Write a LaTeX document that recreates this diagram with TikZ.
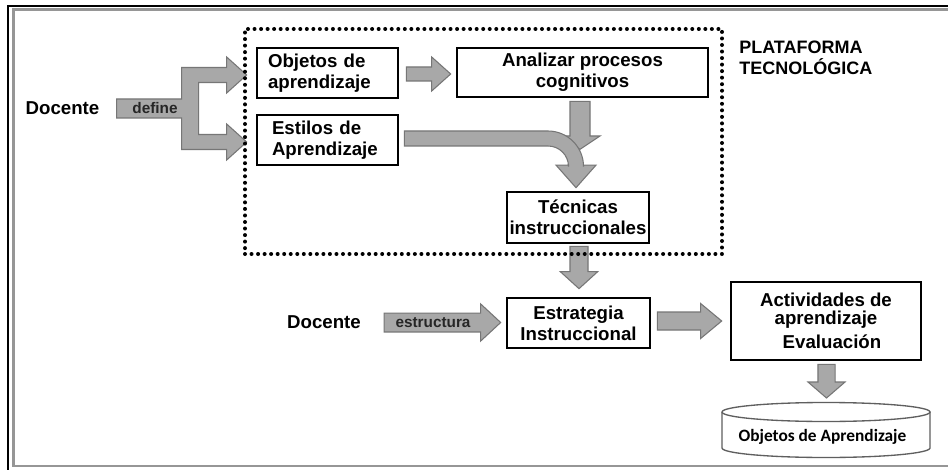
\documentclass[tikz,border=0pt]{standalone}
\usepackage{fontspec}
\setmainfont{Liberation Sans}
\newfontfamily\calibrifont{Carlito}
\usetikzlibrary{calc}

\definecolor{arrowfill}{RGB}{168,168,168}
\definecolor{arrowline}{RGB}{118,118,118}
\definecolor{framegray}{RGB}{150,150,150}
\definecolor{cylline}{RGB}{95,95,95}

% block arrow pointing right: start, tip, shaft half width, head half width, head length
\newcommand\rightblock[5]{%
  \path[blockarrow] let \p1=(#1), \p2=(#2) in
    (\x1,{\y1+#3}) -- ({\x2-#5},{\y1+#3}) -- ({\x2-#5},{\y1+#4}) -- (\x2,\y1)
    -- ({\x2-#5},{\y1-#4}) -- ({\x2-#5},{\y1-#3}) -- (\x1,{\y1-#3}) -- cycle;}
% block arrow pointing down: start, tip, shaft half width, head half width, head length
\newcommand\downblock[5]{%
  \path[blockarrow] let \p1=(#1), \p2=(#2) in
    ({\x1+#3},\y1) -- ({\x1+#3},{\y2+#5}) -- ({\x1+#4},{\y2+#5}) -- (\x1,\y2)
    -- ({\x1-#4},{\y2+#5}) -- ({\x1-#3},{\y2+#5}) -- ({\x1-#3},\y1) -- cycle;}

\begin{document}
\begin{tikzpicture}[x=0.75pt, y=-0.75pt,
  box/.style={draw=black, line width=2pt, fill=white, inner sep=0pt,
    font=\fontsize{14}{15.75}\selectfont\bfseries, align=center},
  lbl/.style={font=\fontsize{14}{15.75}\selectfont\bfseries, inner sep=0pt},
  inarrow/.style={font=\fontsize{11.5}{13}\selectfont\bfseries, text=black!85, inner sep=0pt},
  blockarrow/.style={fill=arrowfill, draw=arrowline, line width=0.8pt, line join=miter},
  platform/.style={draw=black, line width=3pt, dash pattern=on 0pt off 4.9pt,
    line cap=round, inner sep=0pt},
  cylstyle/.style={draw=cylline, line width=1pt}]

\fill[white] (0,0) rectangle (948,470);
\useasboundingbox (0,0) rectangle (948,470);

% page frame
\draw[black, line width=1.6pt] (8.3,470) -- (8.3,6) -- (948,6);
\draw[framegray, line width=1.8pt] (948,9.5) -- (13.3,9.5) -- (13.3,466) -- (948,466);

% boxes
\node[box, minimum width=105.75pt, minimum height=37.5pt, text width=89.25pt, align=left]
  (obj) at (327.5,73) {Objetos de\\aprendizaje};
\node[box, minimum width=105.75pt, minimum height=37.5pt, text width=83.25pt, align=left]
  (est) at (327.5,140) {Estilos de\\Aprendizaje};
\node[box, minimum width=188.25pt, minimum height=36.75pt]
  (ana) at (582.5,72.5) {Analizar procesos\\cognitivos};
\node[box, minimum width=106.5pt, minimum height=38.25pt]
  (tec) at (578,217.5) {Técnicas\\instruccionales};
\node[box, minimum width=107.25pt, minimum height=37.5pt]
  (estr) at (578.5,323) {Estrategia\\Instruccional};
\node[box, minimum width=142.5pt, minimum height=58.5pt,
  font=\fontsize{14}{13.5}\selectfont\bfseries]
  (act) at (826,321) {Actividades de\\aprendizaje\\[4.5pt]\hspace*{9pt}Evaluación};

% plain labels
\node[lbl] (doc1) at (62.5,108) {Docente};
\node[lbl] (doc2) at (324,322) {Docente};
\node[lbl, font=\fontsize{13.5}{15.75}\selectfont\bfseries, align=left, anchor=west]
  (plat) at (739,57.5) {PLATAFORMA\\TECNOLÓGICA};

% repository cylinder
\draw[cylstyle, fill=white] (722,412) -- (722,448)
  .. controls (722,453.25) and (768.6,457.5) .. (826,457.5)
  .. controls (883.4,457.5) and (930,453.25) .. (930,448) -- (930,412);
\draw[cylstyle, fill=white] (826,412) ellipse [x radius=104, y radius=9.5];
\node[inner sep=0pt, font=\calibrifont\fontsize{13}{15}\selectfont\bfseries]
  (cyl) at (822.5,436.5) {Objetos de Aprendizaje};
\coordinate (cyltop) at (826,398);

% arrows
\path[blockarrow] let \p1=($(doc1.east)+(17,0.5)$), \p2=($(obj.west)+(-9,2)$),
    \p3=($(est.west)+(-9,2)$) in
  (\x1,{\y1+7.125pt}) -- ({\x2-48.75pt},{\y1+7.125pt}) -- ({\x2-48.75pt},{\y2+5.625pt})
  -- ({\x2-15pt},{\y2+5.625pt}) -- ({\x2-15pt},{\y2+13.5pt}) -- (\x2,\y2)
  -- ({\x2-15pt},{\y2-13.5pt}) -- ({\x2-15pt},{\y2-5.625pt}) -- ({\x2-36pt},{\y2-5.625pt})
  -- ({\x2-36pt},{\y3+5.625pt}) -- ({\x2-15pt},{\y3+5.625pt}) -- ({\x2-15pt},{\y3+13.5pt})
  -- (\x3,\y3) -- ({\x2-15pt},{\y3-13.5pt}) -- ({\x2-15pt},{\y3-5.625pt})
  -- ({\x2-48.75pt},{\y3-5.625pt}) -- ({\x2-48.75pt},{\y1-7.125pt}) -- (\x1,{\y1-7.125pt}) -- cycle;

\rightblock{$(obj.east)+(7,1)$}{$(ana.west)+(-5,1.5)$}{5.25pt}{12.75pt}{14.25pt}
\downblock{$(ana.south)+(-2.5,3)$}{$(ana.south)+(-2.5,51)$}{7.5pt}{15pt}{10pt}

% bent arrow from the learning styles down to the techniques
\path[blockarrow] let \p1=($(est.east)+(5,-1.5)$), \p2=($(tec.north)+(-2,-3)$) in
  (\x1,{\y1+5.625pt}) -- ({\x2-21pt},{\y1+5.625pt})
  .. controls ({\x2-21pt+14.7pt},{\y1+5.625pt}) and ({\x2+5.625pt},{\y1-21pt+14.7pt})
  .. ({\x2+5.625pt},{\y1-21pt})
  -- ({\x2+5.625pt},{\y2+16.9pt}) -- ({\x2+15pt},{\y2+16.9pt}) -- (\x2,\y2)
  -- ({\x2-15pt},{\y2+16.9pt}) -- ({\x2-5.625pt},{\y2+16.9pt}) -- ({\x2-5.625pt},{\y1-21pt})
  .. controls ({\x2-5.625pt},{\y1-21pt+8.5pt}) and ({\x2-21pt+8.5pt},{\y1-5.625pt})
  .. ({\x2-21pt},{\y1-5.625pt})
  -- (\x1,{\y1-5.625pt}) -- cycle;

\downblock{$(tec.south)+(1,2)$}{$(estr.north)+(0.5,-8)$}{6.75pt}{14pt}{12.75pt}
\rightblock{$(doc2.east)+(23,0.5)$}{$(estr.west)+(-5,0)$}{7.1pt}{13.9pt}{15pt}
\rightblock{$(estr.east)+(6,-2)$}{$(act.west)+(-8,0)$}{6.75pt}{13.1pt}{15.75pt}
\downblock{$(act.south)+(0.5,3)$}{cyltop}{6.4pt}{13.9pt}{12pt}

% labels on the arrows
\node[inarrow] (deflbl) at (155,108.5) {define};
\node[inarrow] (estlbl) at (433,322.5) {estructura};

% technology platform boundary
\node[platform, minimum width=357.75pt, minimum height=168.75pt] (pf) at (483.5,141.5) {};

\end{tikzpicture}
\end{document}
